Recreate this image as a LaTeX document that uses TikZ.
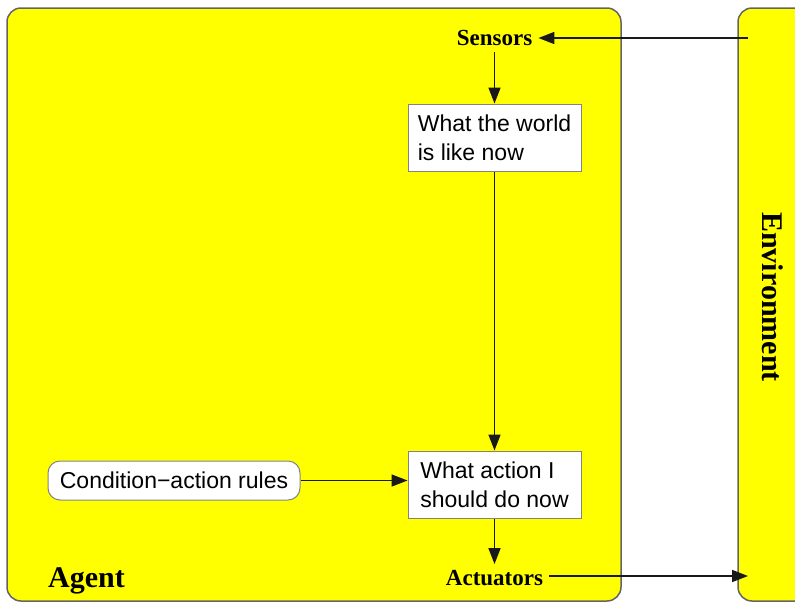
\documentclass[tikz,border=0pt]{standalone}
\usepackage{fontspec}
\setmainfont{Liberation Serif}
\setsansfont{Liberation Sans}
\usetikzlibrary{arrows.meta}
\definecolor{ylw}{RGB}{255,255,0}
\definecolor{edge}{RGB}{100,100,100}
\begin{document}
\begin{tikzpicture}[x=1pt,y=-1pt,
  panel/.style={draw=edge,line width=1.5pt,fill=ylw,rounded corners=14pt},
  infobox/.style={draw=edge!80,line width=1pt,fill=white,minimum width=173pt,minimum height=67pt,
    align=left,inner xsep=4pt,inner ysep=5pt,font=\sffamily\fontsize{23}{29}\selectfont},
  rulebox/.style={draw=edge!80,line width=1pt,fill=white,rounded corners=12pt,minimum width=252pt,minimum height=39pt,
    inner sep=0pt,font=\sffamily\fontsize{23}{28}\selectfont},
  tag/.style={font=\bfseries\fontsize{23}{26}\selectfont,inner sep=6pt},
  bigtag/.style={font=\bfseries\fontsize{30}{32}\selectfont,inner sep=0pt},
  conn/.style={draw=black!90,line width=1.6pt,-{Triangle[length=16pt,width=12pt]}}
]
\clip (0,0) rectangle (795,603);
\fill[white] (0,0) rectangle (795,603);
\draw[panel] (7,8) rectangle (621,601);
\draw[panel] (738,8) rectangle (840,601);
\node[bigtag,anchor=base west] (agentlbl) at (48,587) {Agent};
\node[bigtag,rotate=-90] (envlbl) at (773,297) {Environment};
\node[tag] (sensors) at (494.5,38) {Sensors};
\node[tag] (actuators) at (494.5,578) {Actuators};
\node[infobox] (world) at (494.5,137.5) {What the world\\is like now};
\node[infobox] (action) at (494.5,484.5) {What action I\\should do now};
\node[rulebox] (rules) at (174,480.5) {Condition−action rules};
\coordinate (envin) at (748,38);
\coordinate (envout) at (748,576);
\draw[conn] (envin) -- (sensors.east);
\draw[conn] (sensors.south) -- (world.north);
\draw[conn] (world.south) -- (action.north);
\draw[conn] (action.south) -- (actuators.north);
\draw[conn] (rules.east) -- (rules.east -| action.west);
\draw[conn] (actuators.east |- envout) -- (envout);
\end{tikzpicture}
\end{document}
